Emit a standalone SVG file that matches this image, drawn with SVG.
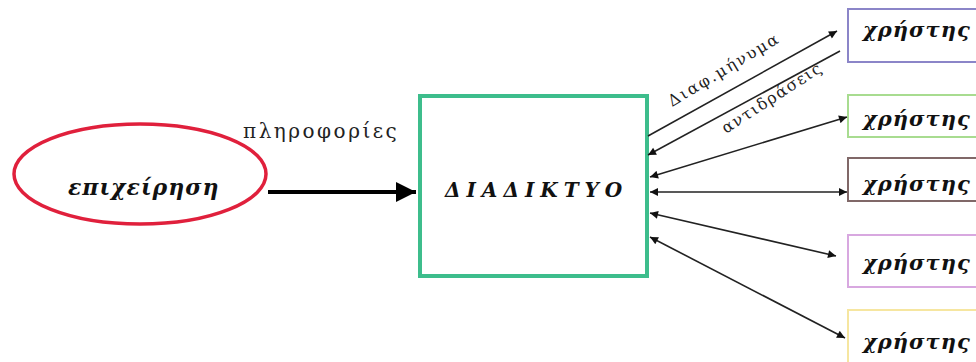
<svg xmlns="http://www.w3.org/2000/svg" width="976" height="362" viewBox="0 0 976 362">
<defs>
<style>
.ut{font-family:"DejaVu Serif","Liberation Serif",serif;font-weight:bold;font-style:italic;font-size:21px;letter-spacing:1px;fill:#111}
.ub{fill:#fff;stroke-width:2}
.ln{stroke:#222;stroke-width:1.6;fill:none}
.lbl{font-family:"DejaVu Serif","Liberation Serif",serif;font-size:16px;fill:#222}
</style>
<marker id="ah" viewBox="0 0 10 10" refX="10" refY="5" markerWidth="10" markerHeight="8" markerUnits="userSpaceOnUse" orient="auto-start-reverse">
<path d="M0,0 L10,5 L0,10 z" fill="#111"/>
</marker>
<marker id="ahb" viewBox="0 0 10 10" refX="10" refY="5" markerWidth="5" markerHeight="5" orient="auto">
<path d="M0,0 L10,5 L0,10 z" fill="#000"/>
</marker>
</defs>
<rect width="976" height="362" fill="#fff"/>

<g id="epixeirisi">
<ellipse cx="140" cy="174" rx="126" ry="50" fill="#fff" stroke="#e0203c" stroke-width="3.5"/>
<text x="68" y="195" class="ut" style="font-size:22px;letter-spacing:1px">επιχείρηση</text>
</g>

<g id="diadiktyo">
<rect x="420" y="96" width="227" height="180" fill="#fff" stroke="#3dbd8c" stroke-width="4"/>
<text x="445" y="197" class="ut" style="font-size:20px;letter-spacing:6px">ΔΙΑΔΙΚΤΥΟ</text>
</g>

<g id="user1">
<rect x="848" y="9" width="140" height="53" class="ub" stroke="#8b85c8"/>
<text x="863" y="37" class="ut">χρήστης</text>
</g>
<g id="user2">
<rect x="848" y="95" width="140" height="42" class="ub" stroke="#a8dc90"/>
<text x="863" y="126" class="ut">χρήστης</text>
</g>
<g id="user3">
<rect x="848" y="158" width="140" height="43" class="ub" stroke="#806868"/>
<text x="863" y="191" class="ut">χρήστης</text>
</g>
<g id="user4">
<rect x="848" y="235" width="140" height="52" class="ub" stroke="#d8a8e0"/>
<text x="863" y="270" class="ut">χρήστης</text>
</g>
<g id="user5">
<rect x="848" y="310" width="140" height="60" class="ub" stroke="#f6e6a0"/>
<text x="863" y="349" class="ut">χρήστης</text>
</g>

<g id="connectors">
<line x1="268" y1="192" x2="416" y2="192" stroke="#000" stroke-width="4" marker-end="url(#ahb)"/>
<text x="243" y="138" class="lbl" style="font-size:20px;letter-spacing:2.5px">πληροφορίες</text>

<line x1="648" y1="136" x2="837" y2="31" class="ln" marker-end="url(#ah)"/>
<line x1="840" y1="51" x2="648" y2="155" class="ln" marker-end="url(#ah)"/>
<line x1="650" y1="177" x2="847" y2="117" class="ln" marker-start="url(#ah)" marker-end="url(#ah)"/>
<line x1="650" y1="192" x2="847" y2="192" class="ln" marker-start="url(#ah)" marker-end="url(#ah)"/>
<line x1="650" y1="213" x2="836" y2="256" class="ln" marker-start="url(#ah)" marker-end="url(#ah)"/>
<line x1="650" y1="237" x2="845" y2="338" class="ln" marker-start="url(#ah)" marker-end="url(#ah)"/>

<text class="lbl" transform="translate(672,107) rotate(-31)" style="letter-spacing:2px">Διαφ.μήνυμα</text>
<text class="lbl" transform="translate(726,134) rotate(-33)" style="letter-spacing:1.5px">αντιδράσεις</text>
</g>
</svg>
